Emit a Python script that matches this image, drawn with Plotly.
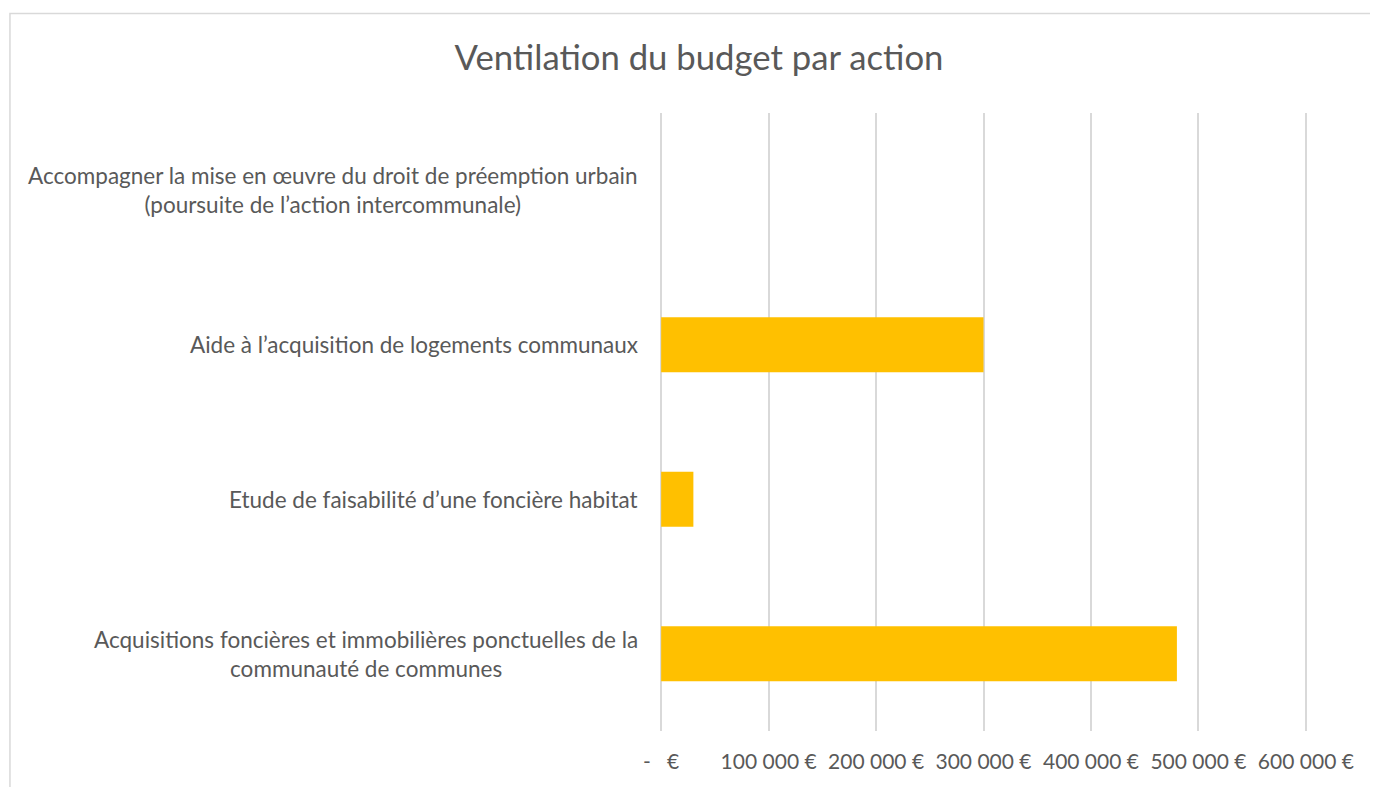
import plotly.graph_objects as go

categories = [
    "Acquisitions foncières et immobilières ponctuelles de la<br>communauté de communes",
    "Etude de faisabilité d’une foncière habitat",
    "Aide à l’acquisition de logements communaux",
    "Accompagner la mise en œuvre du droit de préemption urbain<br>(poursuite de l’action intercommunale)",
]
values = [480000, 30000, 300000, 0]
tick_vals = [0, 100000, 200000, 300000, 400000, 500000, 600000]
tick_text = ["-   €", "100 000 €", "200 000 €", "300 000 €", "400 000 €", "500 000 €", "600 000 €"]
title = "Ventilation du budget par action"

FONT = "Lato"
TXT = "#595959"
GRID = "#d9d9d9"

OFF = 8  # page body margin
W, H = 1370, 779
L, R, T, B = 650.85, 69.85, 105, 56
pw, ph = W - L - R, H - T - B

def px(x):
    return (x - OFF - L) / pw

def py(y):
    return (H - B - (y - OFF)) / ph

fig = go.Figure()
fig.add_trace(go.Bar(
    x=values, y=list(range(len(categories))), orientation="h",
    marker=dict(color="#FFC000", line=dict(width=0)),
    hoverinfo="x",
))

annotations = []
for i, c in enumerate(categories):
    annotations.append(dict(
        x=0, xref="paper", y=i, yref="y", text=c, showarrow=False,
        xanchor="right", yanchor="middle", align="center",
        xshift=-19,
        font=dict(family=FONT, size=22.5, color=TXT),
    ))

fig.update_layout(
    width=W, height=H,
    margin=dict(l=L, r=R, t=T, b=B, pad=0),
    paper_bgcolor="white", plot_bgcolor="white",
    bargap=0.643,
    showlegend=False,
    title=dict(text=title, x=(699 - OFF) / W, xanchor="center", y=1 - (58 - OFF) / H, yanchor="middle",
               yref="container", xref="container",
               font=dict(family=FONT, size=34.7, color=TXT)),
    xaxis=dict(range=[-2000, 602000], tickvals=tick_vals, ticktext=tick_text,
               showgrid=True, gridcolor=GRID, gridwidth=1.5, zeroline=False,
               showline=False, ticks="outside", ticklen=12, tickcolor="rgba(0,0,0,0)",
               tickfont=dict(family=FONT, size=21, color=TXT), fixedrange=True),
    yaxis=dict(range=[-0.5, 3.5], showticklabels=False, showgrid=False, zeroline=False,
               showline=False, fixedrange=True),
    annotations=annotations,
    shapes=[dict(type="path", xref="paper", yref="paper",
                 path=f"M {px(9.5)} {py(800)} L {px(9.5)} {py(13.5)} L {px(1400)} {py(13.5)}",
                 line=dict(color=GRID, width=1.5))],
)
fig.write_html("out.html")
